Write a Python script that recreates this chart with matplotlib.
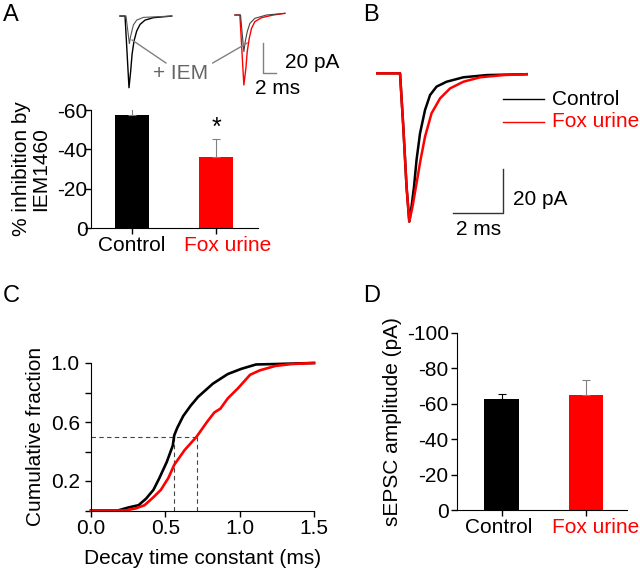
import matplotlib
matplotlib.use("Agg")
from matplotlib import pyplot as plt
from matplotlib.transforms import ScaledTranslation

plt.rcParams['font.family'] = ['Liberation Sans', 'DejaVu Sans']
plt.rcParams['font.size'] = 15
plt.rcParams['axes.unicode_minus'] = False

# ---- data ----
groups = ["Control", "Fox urine"]
colors = ["black", "red"]

# A: % inhibition by IEM1460
inhib = [-57.5, -36.3]
inhib_err = [3.3, 8.8]

# A inset traces (ms, pA), each pair starts at t = 0
a_ctl_t = [0, 0.77, 1.38, 1.64, 1.85, 2.15, 2.56, 3.08, 3.85, 5.13, 7.95]
a_ctl_i = [0, 0, -47.8, -36.7, -25.6, -16.7, -10.0, -5.6, -2.7, -1.1, 0]
a_ctl_iem_t = [0, 0.92, 1.44, 1.64, 2.05, 2.56, 3.59, 7.95]
a_ctl_iem_i = [0, 0, -18.4, -13.3, -6.0, -2.7, -0.9, 0]
a_fox_t = [0, 0.77, 1.38, 1.69, 1.90, 2.21, 2.56, 3.08, 4.10, 5.90, 7.69]
a_fox_i = [0, 0, -46.7, -35.6, -24.4, -15.6, -8.9, -4.4, -1.8, 0, 1.1]
a_fox_iem_t = [0, 0.87, 1.38, 1.59, 1.90, 2.31, 3.08, 4.87, 7.69]
a_fox_iem_i = [0, 0, -24.4, -17.8, -11.1, -5.6, -2.2, 0, 1.1]

# B: averaged sEPSC (ms, pA)
b_ctl_t = [0, 0.91, 1.04, 1.17, 1.28, 1.37, 1.47, 1.57, 1.71, 1.91, 2.11, 2.37, 2.77, 3.44, 4.37, 5.97]
b_ctl_i = [0, 0, -24, -51, -66.8, -60, -51, -39, -27, -16.5, -9.8, -6.0, -3.8, -1.8, -0.8, -0.4]
b_fox_t = [0, 0.91, 1.04, 1.17, 1.28, 1.41, 1.57, 1.73, 1.91, 2.17, 2.51, 2.91, 3.44, 4.11, 5.04, 5.97]
b_fox_i = [0, 0, -24, -51, -66.8, -60, -49.5, -39, -28.5, -18, -11.3, -6.8, -3.8, -1.8, -0.8, -0.4]

# C: cumulative distribution of decay time constant
c_ctl_x = [0, 0.18, 0.25, 0.32, 0.37, 0.42, 0.46, 0.51, 0.55, 0.56, 0.58, 0.62, 0.67, 0.72, 0.82, 0.92, 1.01, 1.11, 1.24, 1.5]
c_ctl_y = [0, 0, 0.02, 0.036, 0.08, 0.14, 0.22, 0.33, 0.44, 0.51, 0.56, 0.64, 0.71, 0.77, 0.86, 0.925, 0.96, 0.99, 0.993, 1.0]
c_fox_x = [0, 0.23, 0.30, 0.36, 0.42, 0.47, 0.52, 0.56, 0.63, 0.71, 0.78, 0.83, 0.87, 0.92, 0.99, 1.07, 1.135, 1.24, 1.35, 1.5]
c_fox_y = [0, 0, 0.014, 0.036, 0.09, 0.14, 0.22, 0.31, 0.41, 0.50, 0.60, 0.665, 0.69, 0.76, 0.83, 0.92, 0.95, 0.98, 0.993, 1.0]
c_half = [0.56, 0.71]

# D: sEPSC amplitude
amp = [-62.7, -65.1]
amp_err = [2.7, 8.3]

W, H = 640, 570
fig = plt.figure(figsize=(6.4, 5.7), dpi=100)


def px_axes(x0, y0, x1, y1):
    return fig.add_axes([x0 / W, 1 - y1 / H, (x1 - x0) / W, (y1 - y0) / H])


def style(ax, ypad):
    ax.spines['top'].set_visible(False)
    ax.spines['right'].set_visible(False)
    ax.tick_params(direction='out', length=4, width=1)
    ax.tick_params(axis='x', pad=2)
    ax.tick_params(axis='y', pad=ypad)


def bars(ax, vals, errs, err_cols, shifts):
    ax.bar([0, 1], vals, width=0.41, color=colors)
    for i in range(2):
        ax.errorbar(i, vals[i], yerr=[[errs[i]], [0]], fmt='none',
                    ecolor=err_cols[i], elinewidth=0.8, capsize=3, capthick=0.8)
    ax.set_xticks([0, 1])
    ax.set_xticklabels(groups)
    labs = ax.get_xticklabels()
    labs[1].set_color('red')
    for lab, dx in zip(labs, shifts):
        lab.set_transform(lab.get_transform() + ScaledTranslation(dx / 100, 0, fig.dpi_scale_trans))


# ---- A bar chart ----
axA = px_axes(91, 110, 258, 228)
style(axA, -1.5)
bars(axA, inhib, inhib_err, ['gray', 'gray'], [0, 12])
axA.set_xlim(-0.49, 1.5)
axA.set_ylim(0, -60)
axA.set_yticks([0, -20, -40, -60])
axA.set_ylabel("% inhibition by\nIEM1460", labelpad=5, linespacing=1.0)
axA.text(1, -51, "*", ha='center', va='center', fontsize=18)

# ---- A inset traces ----
axT = px_axes(110, 0, 350, 100)
axT.axis('off')
axT.set_xlim(0, 36.9)
axT.set_ylim(-56, 10.7)
off1, off2 = 1.54, 19.2
axT.plot([t + off1 for t in a_ctl_t], a_ctl_i, color='black', lw=1.0)
axT.plot([t + off1 for t in a_ctl_iem_t], a_ctl_iem_i, color='#555555', lw=0.8)
axT.plot([t + off2 for t in a_fox_t], [v + 0.7 for v in a_fox_i], color='red', lw=1.0)
axT.plot([t + off2 for t in a_fox_iem_t], [v + 0.7 for v in a_fox_iem_i], color='#444444', lw=0.8)
axT.plot([3.4, 8.6], [-16, -31.3], color='gray', lw=1)
axT.plot([15.8, 21.1], [-31.3, -18], color='gray', lw=1)
axT.text(10.9, -38, "+ IEM", color='#666666', ha='center', va='center')
axT.plot([23.5, 23.5, 25.5], [-18, -38, -38], color='gray', lw=1)
axT.text(26.9, -30.7, "20 pA", ha='left', va='center')
axT.text(25.8, -48, "2 ms", ha='center', va='center')

# ---- B ----
axB = px_axes(370, 50, 640, 240)
axB.axis('off')
axB.set_xlim(-0.29, 10.5)
axB.set_ylim(-75.1, 10.5)
axB.plot(b_ctl_t, b_ctl_i, color='black', lw=1.8)
axB.plot(b_fox_t, b_fox_i, color='red', lw=1.8)
axB.plot([5.03, 6.67], [-11.6, -11.6], color='black', lw=1)
axB.plot([5.03, 6.67], [-21.9, -21.9], color='red', lw=1)
axB.text(6.99, -11.6, "Control", va='center', ha='left')
axB.text(6.99, -21.9, "Fox urine", va='center', ha='left', color='red')
axB.plot([3.03, 5.03, 5.03], [-62.9, -62.9, -43.1], color='#333333', lw=1)
axB.text(5.43, -57, "20 pA", va='center', ha='left')
axB.text(4.03, -70.5, "2 ms", va='center', ha='center')

# ---- C ----
axC = px_axes(91, 363, 314, 510.5)
style(axC, 4)
axC.plot([0, c_half[1]], [0.5, 0.5], color='#444444', lw=0.8, ls=(0, (4, 3)))
for h in c_half:
    axC.plot([h, h], [0, 0.5], color='#444444', lw=0.8, ls=(0, (4, 3)))
axC.plot(c_ctl_x, c_ctl_y, color='black', lw=1.9, clip_on=False)
axC.plot(c_fox_x, c_fox_y, color='red', lw=1.9, clip_on=False)
axC.set_xlim(0, 1.5)
axC.set_ylim(0, 1.0)
axC.set_xticks([0, 0.5, 1.0, 1.5])
axC.set_xticklabels(["0.0", "0.5", "1.0", "1.5"])
axC.set_yticks([0, 0.2, 0.4, 0.6, 0.8, 1.0])
axC.set_yticklabels(["", "0.2", "", "0.6", "", "1.0"])
axC.set_xlabel("Decay time constant (ms)", labelpad=8)
axC.set_ylabel("Cumulative fraction", labelpad=4)

# ---- D ----
axD = px_axes(457, 333, 627, 510)
style(axD, 2)
bars(axD, amp, amp_err, ['black', 'gray'], [-3, 10])
axD.set_xlim(-0.53, 1.49)
axD.set_ylim(0, -100)
axD.set_yticks([0, -20, -40, -60, -80, -100])
axD.set_ylabel("sEPSC amplitude (pA)", labelpad=3)

for lab, x, y in [("A", 3, 21), ("B", 363, 21), ("C", 3, 302), ("D", 363, 302)]:
    fig.text(x / W, 1 - y / H, lab, fontsize=17, va='baseline', ha='left')

fig.savefig("out.png", dpi=100)
